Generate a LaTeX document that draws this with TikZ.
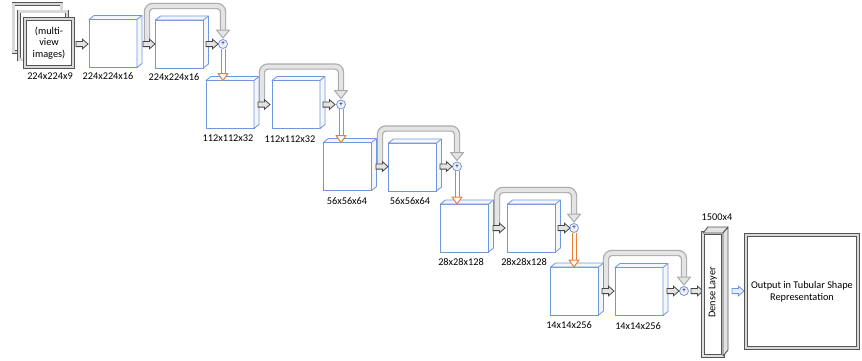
\documentclass[tikz,border=0pt]{standalone}
\usepackage{fontspec}
\setmainfont{Carlito}
\usetikzlibrary{calc,backgrounds}
\definecolor{cubeblue}{RGB}{110,150,225}
\definecolor{arrdark}{RGB}{70,70,70}
\definecolor{skipgray}{RGB}{170,170,170}
\definecolor{skipfill}{RGB}{228,228,228}
\definecolor{orng}{RGB}{237,125,49}
\definecolor{framedark}{RGB}{85,85,85}
\begin{document}
\begin{tikzpicture}[x=1pt,y=-1pt, font=\fontsize{10.3}{11.5}\selectfont,
 cube/.style={draw=cubeblue, fill=white, line width=0.8pt, minimum width=48pt, minimum height=48pt, inner sep=0pt, outer sep=0pt},
 cubeside/.style={draw=cubeblue, fill=gray!7, line width=0.8pt, line join=round},
 harrow/.style={rectangle, minimum width=12pt, minimum height=9pt, inner sep=0pt, outer sep=0pt},
 arrowbody/.style={draw=arrdark, fill=gray!22, line width=0.8pt, line join=miter},
 barrowbody/.style={draw=cubeblue, fill=blue!8, line width=0.8pt, line join=miter},
 plusnode/.style={circle, draw=cubeblue, fill=blue!6, line width=0.8pt, minimum size=9pt, inner sep=0pt, font=\fontsize{7}{7}\selectfont},
 lbl/.style={inner sep=0pt},
 skipbar/.style={draw=skipgray, double=skipfill, double distance=4pt, line width=1.2pt, rounded corners=6pt},
 skiphead/.style={draw=skipgray, fill=skipfill, line width=1pt, line join=round},
 obar/.style={draw=orng, double=white, double distance=3pt, line width=1pt},
 ohead/.style={draw=orng, fill=white, line width=1pt, line join=round},
 frame/.style={draw=framedark, double=gray!30, double distance=2.5pt, line width=0.7pt, fill=white, inner sep=0pt, outer sep=0pt},
 thinframe/.style={draw=framedark, double=gray!25, double distance=1.5pt, line width=0.9pt, fill=white, inner sep=0pt, outer sep=0pt},
 depthface/.style={draw=framedark, fill=gray!22, line width=0.9pt, line join=round},
]
\useasboundingbox (0,0) rectangle (862,360);

% multi-view input stack
\node[frame, minimum size=48pt] (mv1) at (37.5,28) {};
\node[frame, minimum size=48pt] (mv2) at (43,35.5) {};
\node[frame, minimum size=48pt, align=center] (mv3) at (49,43) {(multi-\\view\\images)};
\node[lbl] (lmv) at (50,76) {224x224x9};

% cubes
\node[cube] (b1) at (113,43.5) {};
\node[cube] (b2) at (179.5,44) {};
\node[cube] (b3) at (230,104.5) {};
\node[cube] (b4) at (296,104.5) {};
\node[cube] (b5) at (347.5,166.5) {};
\node[cube] (b6) at (412.5,167) {};
\node[cube] (b7) at (464.5,228) {};
\node[cube] (b8) at (531.5,228) {};
\node[cube] (b9) at (574.5,291) {};
\node[cube] (b10) at (639,291.5) {};
\foreach \b in {b1,b2,b3,b4,b5,b6,b7,b8,b9,b10}{
  \draw[cubeside] (\b.north west) -- ++(5,-4) -| ($(\b.south east)+(5,-4)$) -- (\b.south east) -- (\b.north east) -- cycle;
  \draw[cubeside] (\b.north east) -- ++(5,-4);
}

% labels
\node[lbl] (l1) at (108,76) {224x224x16};
\node[lbl] (l2) at (174,77) {224x224x16};
\node[lbl] (l3) at (228,138) {112x112x32};
\node[lbl] (l4) at (290,139.5) {112x112x32};
\node[lbl] (l5) at (347,201) {56x56x64};
\node[lbl] (l6) at (410,201) {56x56x64};
\node[lbl] (l7) at (461,262) {28x28x128};
\node[lbl] (l8) at (524,262) {28x28x128};
\node[lbl] (l9) at (569,325) {14x14x256};
\node[lbl] (l10) at (638,326) {14x14x256};

% small arrows (placeholders)
\node[harrow] (a1) at (82,44) {};
\node[harrow] (a2) at (149,44) {};
\node[harrow] (a3) at (212,44) {};
\node[harrow] (a4) at (264,104.5) {};
\node[harrow] (a5) at (329,104.5) {};
\node[harrow] (a6) at (382,166.5) {};
\node[harrow] (a7) at (446,166.5) {};
\node[harrow] (a8) at (499,228) {};
\node[harrow] (a9) at (564,228) {};
\node[harrow] (a10) at (608,291) {};
\node[harrow] (a11) at (673,291) {};
\node[harrow] (a12) at (697,291) {};
\node[harrow] (a13) at (738,291) {};

% plus circles
\node[plusnode] (c1) at (223,44) {+};
\node[plusnode] (c2) at (341,104.5) {+};
\node[plusnode] (c3) at (457,166.5) {+};
\node[plusnode] (c4) at (574,228) {+};
\node[plusnode] (c5) at (684,291) {+};

% skip connections
\begin{scope}[on background layer]
\foreach \a/\c in {a2/c1,a4/c2,a6/c3,a8/c4,a10/c5}{
  \draw[skipbar] ($(\a.center)+(-2,0)$) |- ($(\c.center)+(0,-38)$) -- ($(\c.center)+(0,-14)$);
}
\end{scope}
\foreach \c in {c1,c2,c3,c4,c5}{
  \draw[skiphead] ($(\c.center)+(-6.5,-14)$) -- ($(\c.center)+(6.5,-14)$) -- ($(\c.center)+(0,-6)$) -- cycle;
}

% hollow block arrows
\foreach \a in {a1,a2,a3,a4,a5,a6,a7,a8,a9,a10,a11,a12}{
  \draw[arrowbody] ($(\a.center)+(-6,-2.6)$) -- ++(6.5,0) -- ++(0,-2.2) -- ($(\a.center)+(6,0)$) -- ($(\a.center)+(0.5,4.8)$) -- ++(0,-2.2) -- ($(\a.center)+(-6,2.6)$) -- cycle;
}
\draw[barrowbody] ($(a13.center)+(-6,-2.6)$) -- ++(6.5,0) -- ++(0,-2.2) -- ($(a13.center)+(6,0)$) -- ($(a13.center)+(0.5,4.8)$) -- ++(0,-2.2) -- ($(a13.center)+(-6,2.6)$) -- cycle;

% orange connectors to next row
\foreach \c/\n in {c1/b3,c2/b5,c3/b7,c4/b9}{
  \coordinate (t\c) at (\c.south |- \n.north);
  \draw[obar] (\c.south) -- ($(t\c)+(0,-7)$);
  \draw[ohead] ($(t\c)+(-5,-7)$) -- ($(t\c)+(5,-7)$) -- (t\c) -- cycle;
}

% dense layer
\node[thinframe, minimum width=20pt, minimum height=123pt] (dl) at (713,294.5) {};
\draw[depthface] (dl.north west) -- ++(5,-6) -- ($(dl.north east)+(5,-6)$) -- (dl.north east) -- cycle;
\draw[depthface] (dl.north east) -- ++(5,-6) -- ($(dl.south east)+(5,-6)$) -- (dl.south east) -- cycle;
\node[rotate=90, inner sep=0pt] (dlt) at (713,292.5) {Dense Layer};
\node[lbl] (ldl) at (717,217) {1500x4};

% output
\node[frame, minimum width=112pt, minimum height=113pt, align=center] (out) at (802,291.5) {Output in Tubular Shape\\Representation};
\end{tikzpicture}
\end{document}
